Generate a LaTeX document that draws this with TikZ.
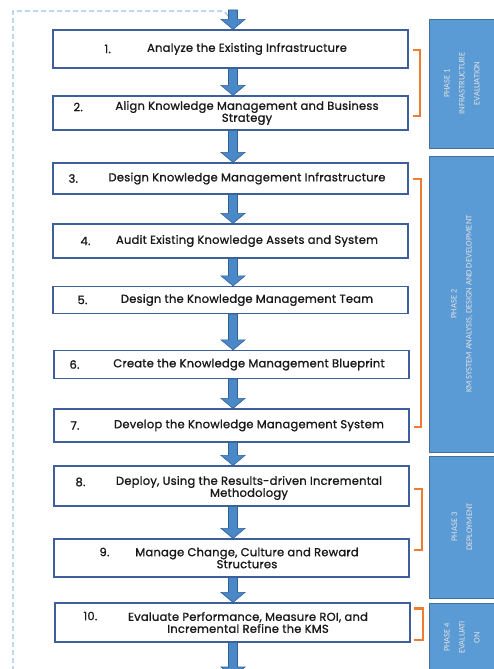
\documentclass[tikz,border=0pt]{standalone}
\usepackage{fontspec}
\setmainfont{Poppins}
\newfontfamily\stepfont{Poppins}[FakeBold=1.2, LetterSpace=2]
\newfontfamily\phasefont{Carlito}
\usetikzlibrary{calc,positioning}

\definecolor{stepedge}{HTML}{3F5F9C}
\definecolor{flowblue}{HTML}{4A88C8}
\definecolor{flowedge}{HTML}{2F6296}
\definecolor{phaseblue}{HTML}{5B9BD5}
\definecolor{phaseedge}{HTML}{41719C}
\definecolor{braceorange}{HTML}{ED7D31}
\definecolor{loopblue}{HTML}{9DC3E6}

% block arrow between two points, on the common axis
\newcommand{\flowarrow}[2]{%
  \draw[flowstyle] ($(#1 -| axis)+(-4.5,0)$) -- ($(#2 -| axis)+(-4.5,-10)$)
    -- ($(#2 -| axis)+(-12,-10)$) -- (#2 -| axis) -- ($(#2 -| axis)+(12,-10)$)
    -- ($(#2 -| axis)+(4.5,-10)$) -- ($(#1 -| axis)+(4.5,0)$) -- cycle;}

\begin{document}
\begin{tikzpicture}[x=1pt, y=-1pt,
  stepbox/.style = {draw=stepedge, line width=1.2pt, fill=white, minimum width=355pt, inner sep=0pt},
  steptext/.style = {align=center, font=\stepfont\fontsize{11.5}{12}\selectfont, text=black!90},
  stepnum/.style = {anchor=west, font=\stepfont\fontsize{11.5}{12}\selectfont, text=black!90},
  flowstyle/.style = {fill=flowblue, draw=flowedge, line width=0.6pt, line join=miter},
  phasebox/.style = {draw=phaseedge, line width=0.8pt, fill=phaseblue, rotate=90, minimum height=66pt,
                     align=center, text=black!12, font=\phasefont\fontsize{8.5}{15}\selectfont},
  phasebrace/.style = {draw=braceorange, line width=2.2pt},
  loopline/.style = {draw=loopblue, line width=1.3pt, dash pattern=on 5pt off 3pt}]
\useasboundingbox (0,0) rectangle (493,669);

\coordinate (axis) at (233,0);
\coordinate (entry) at (233,10);
\coordinate (exit) at (233,677);
\coordinate (loopfoot) at (13,671);
\coordinate (loophead) at (220,11);

% feedback loop
\draw[loopline] (loopfoot) |- (loophead) to[out=0, in=120] (228,16);

% steps
\node[stepbox, minimum height=38pt] (s1) at (230.5,49) {};
\node[steptext] (t1) at (247,49) {Analyze the Existing Infrastructure};
\node[stepnum] (n1) at (101,49) {1.};

\node[stepbox, minimum height=34pt] (s2) at (230.5,113) {};
\node[steptext] (t2) at (247,113) {Align Knowledge Management and Business\\Strategy};
\node[stepnum] (n2) at (70,107) {2.};

\node[stepbox, minimum height=31pt] (s3) at (230.5,178.5) {};
\node[steptext] (t3) at (247,178.5) {Design Knowledge Management Infrastructure};
\node[stepnum] (n3) at (65,178.5) {3.};

\node[stepbox, minimum height=34pt] (s4) at (230.5,241) {};
\node[steptext] (t4) at (247,241) {Audit Existing Knowledge Assets and System};
\node[stepnum] (n4) at (77,241) {4.};

\node[stepbox, minimum height=27pt] (s5) at (230.5,300) {};
\node[steptext] (t5) at (247,300) {Design the Knowledge Management Team};
\node[stepnum] (n5) at (74,300) {5.};

\node[stepbox, minimum height=28pt] (s6) at (231.5,364.5) {};
\node[steptext] (t6) at (249,364.5) {Create the Knowledge Management Blueprint};
\node[stepnum] (n6) at (66,364.5) {6.};

\node[stepbox, minimum height=33pt] (s7) at (231.5,425.5) {};
\node[steptext] (t7) at (249,425.5) {Develop the Knowledge Management System};
\node[stepnum] (n7) at (67,425.5) {7.};

\node[stepbox, minimum height=40pt] (s8) at (231.5,486) {};
\node[steptext] (t8) at (249,488) {Deploy, Using the Results-driven Incremental\\Methodology};
\node[stepnum] (n8) at (72,482) {8.};

\node[stepbox, minimum height=38pt] (s9) at (231.5,558) {};
\node[steptext] (t9) at (247,558) {Manage Change, Culture and Reward\\Structures};
\node[stepnum] (n9) at (96,552) {9.};

\node[stepbox, minimum height=39pt] (s10) at (232.5,622.5) {};
\node[steptext] (t10) at (248,622.5) {Evaluate Performance, Measure ROI, and\\Incremental Refine the KMS};
\node[stepnum] (n10) at (80,616) {10.};

% arrows
\flowarrow{entry}{s1.north}
\foreach \a/\b in {s1/s2, s2/s3, s3/s4, s4/s5, s5/s6, s6/s7, s7/s8, s8/s9, s9/s10}
  {\flowarrow{\a.south}{\b.north}}
\flowarrow{s10.south}{exit}

% phases
\node[phasebox, minimum width=129pt] (p1) at (462,83.5) {PHASE 1\\INFRASTRUCTURE\\EVALUATION};
\node[phasebox, minimum width=296pt] (p2) at (462,304) {PHASE 2\\KM SYSTEM ANALYSIS, DESIGN AND DEVELOPMENT};
\node[phasebox, minimum width=142pt] (p3) at (462,527) {PHASE 3\\DEPLOYMENT};
\node[phasebox, minimum width=69pt] (p4) at (462,637.5) {PHASE 4\\EVALUATI\\ON};

\draw[phasebrace] ($(s1.east)+(4,1)$) -- ++(7,0) |- ($(s2.east)+(4,3)$);
\draw[phasebrace] ($(s3.east)+(4,0.5)$) -- ++(8,0) |- ($(s7.east)+(4,1.5)$);
\draw[phasebrace] ($(s8.east)+(4,3)$) -- ++(8,0) |- ($(s9.east)+(4,-8)$);
\draw[phasebrace] ($(s10.north east)+(3,6)$) -- ++(9,0) |- ($(s10.south east)+(3,-3)$);
\end{tikzpicture}
\end{document}
